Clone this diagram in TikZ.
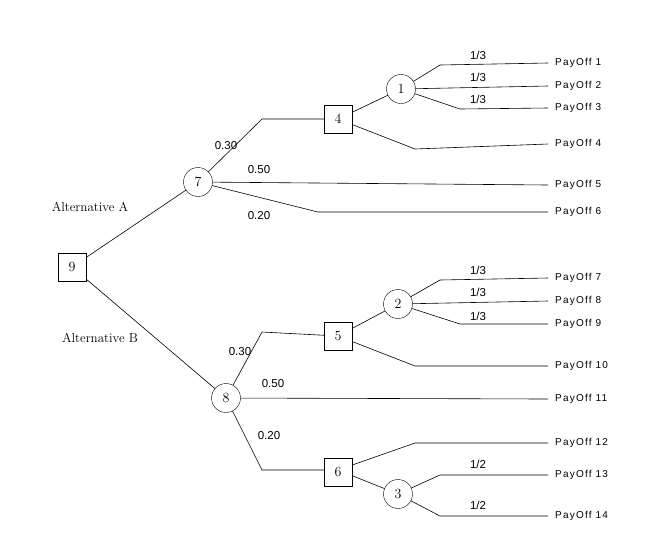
\documentclass[tikz,border=0pt]{standalone}
\usepackage{fontspec}
\newfontfamily\sans{Liberation Sans}
\begin{document}
\begin{tikzpicture}[x=1pt,y=-1pt,
  sq/.style={draw,fill=white,minimum size=28pt,inner sep=0pt,font=\fontsize{14}{16}\selectfont},
  ci/.style={draw,fill=white,circle,minimum size=29pt,inner sep=0pt,font=\fontsize{14}{16}\selectfont},
  pl/.style={font=\sans\fontsize{11.5}{13}\selectfont},
  po/.style={font=\sans\fontsize{10}{12}\selectfont\addfontfeature{LetterSpace=12},anchor=west,inner sep=0pt},
  ln/.style={line width=0.6pt}]
\useasboundingbox (0,0) rectangle (658,547);
\foreach \n/\y in {1/63,2/86,3/108,4/144,5/185,6/212,7/278,8/301,9/324,10/366,11/399,12/443,13/475,14/516}
  {\coordinate (e\n) at (548,\y); \node[po] (p\n) at (555,\y) {PayOff \n};}
\coordinate (c74) at (262,119);
\coordinate (c76) at (318,212);
\coordinate (c44) at (415,149);
\coordinate (c11) at (440,65);
\coordinate (c13) at (460,109);
\coordinate (c85) at (262,332);
\coordinate (c86) at (262,470);
\coordinate (c510) at (415,366);
\coordinate (c27) at (440,280);
\coordinate (c29) at (460,324);
\coordinate (c612) at (415,443);
\coordinate (c313) at (440,475);
\coordinate (c314) at (440,516);
\begin{scope}[ln]
\draw (72,267) -- (198,182);
\draw (72,267) -- (226,398);
\draw (198,182) -- (c74) -- (338,119);
\draw (198,182) -- (e5);
\draw (198,182) -- (c76) -- (e6);
\draw (338,119) -- (401,89);
\draw (338,119) -- (c44) -- (e4);
\draw (401,89) -- (c11) -- (e1);
\draw (401,89) -- (e2);
\draw (401,89) -- (c13) -- (e3);
\draw (226,398) -- (c85) -- (338,336);
\draw (226,398) -- (e11);
\draw (226,398) -- (c86) -- (338,470);
\draw (338,336) -- (398,304);
\draw (338,336) -- (c510) -- (e10);
\draw (398,304) -- (c27) -- (e7);
\draw (398,304) -- (e8);
\draw (398,304) -- (c29) -- (e9);
\draw (338,470) -- (c612) -- (e12);
\draw (338,470) -- (398,494);
\draw (398,494) -- (c313) -- (e13);
\draw (398,494) -- (c314) -- (e14);
\end{scope}
\node[sq] (n9) at (72,267) {9};
\node[ci] (n7) at (198,182) {7};
\node[ci] (n8) at (226,398) {8};
\node[sq] (n4) at (338,119) {4};
\node[ci] (n1) at (401,89) {1};
\node[sq] (n5) at (338,336) {5};
\node[ci] (n2) at (398,304) {2};
\node[sq] (n6) at (338,472) {6};
\node[ci] (n3) at (398,494) {3};
\node[font=\fontsize{13}{15}\selectfont] (aA) at (90,207) {Alternative A};
\node[font=\fontsize{13}{15}\selectfont] (aB) at (100,338) {Alternative B};
\node[pl] (l1) at (226,146) {0.30};
\node[pl] (l2) at (259,170) {0.50};
\node[pl] (l3) at (259,216) {0.20};
\node[pl] (l4) at (478,55) {1/3};
\node[pl] (l5) at (478,77) {1/3};
\node[pl] (l6) at (478,99) {1/3};
\node[pl] (l7) at (240,352) {0.30};
\node[pl] (l8) at (273,384) {0.50};
\node[pl] (l9) at (269,436) {0.20};
\node[pl] (l10) at (478,270) {1/3};
\node[pl] (l11) at (478,292) {1/3};
\node[pl] (l12) at (478,316) {1/3};
\node[pl] (l13) at (478,464) {1/2};
\node[pl] (l14) at (478,505) {1/2};
\end{tikzpicture}
\end{document}
